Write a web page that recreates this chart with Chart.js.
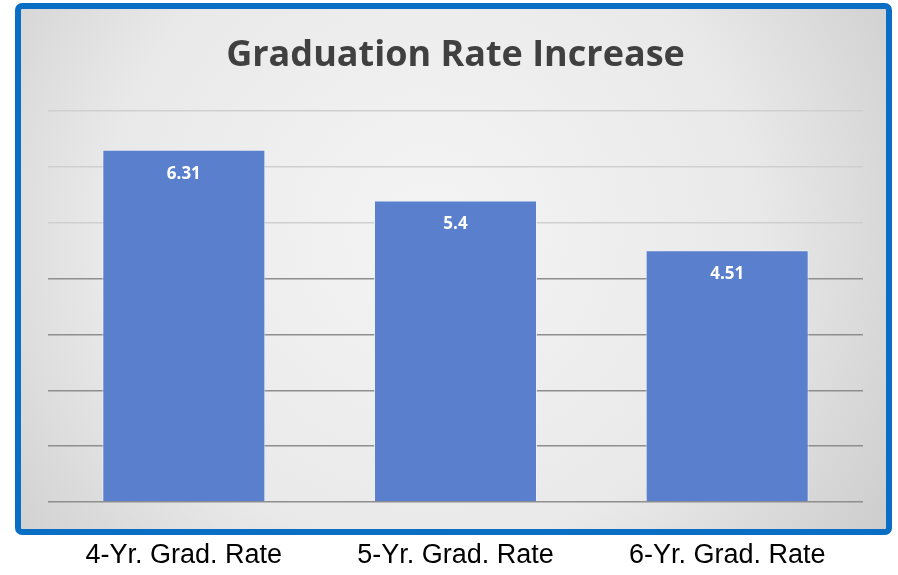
<!DOCTYPE html>
<html>
<head>
<meta charset="utf-8">
<title>Graduation Rate Increase</title>
<script src="https://cdn.jsdelivr.net/npm/chart.js@4.4.1/dist/chart.umd.min.js"></script>
<style>
  html, body { margin: 0; padding: 0; background: #fff; overflow: hidden; }
  canvas { display: block; }
</style>
</head>
<body>
<canvas id="gradChart" width="898" height="575"></canvas>
<script>
const categories = ['4-Yr. Grad. Rate', '5-Yr. Grad. Rate', '6-Yr. Grad. Rate'];
const increases = [6.31, 5.4, 4.51];
const yTicks = [0, 1, 2, 3, 4, 5, 6, 7];

// framed panel behind the plot: grey shaded fill with a blue border
const panelPlugin = {
    id: 'panel',
    beforeDraw(chart) {
        const ctx = chart.ctx;
        const x = 18, y = 6, w = 871, h = 526;
        ctx.save();
        const g = ctx.createRadialGradient(430, 230, 40, 430, 230, 560);
        g.addColorStop(0, '#f3f3f3');
        g.addColorStop(0.55, '#e9e9e9');
        g.addColorStop(1, '#cbcbcb');
        ctx.fillStyle = g;
        ctx.beginPath();
        ctx.roundRect(x, y, w, h, 4);
        ctx.fill();
        ctx.lineWidth = 6;
        ctx.strokeStyle = '#0a6fc4';
        ctx.stroke();
        ctx.restore();
    }
};

// value written in white near the top of each bar
const valuePlugin = {
    id: 'values',
    afterDatasetsDraw(chart) {
        const ctx = chart.ctx;
        const meta = chart.getDatasetMeta(0);
        ctx.save();
        ctx.fillStyle = '#ffffff';
        ctx.font = 'bold 17px "Open Sans", sans-serif';
        ctx.textAlign = 'center';
        ctx.textBaseline = 'middle';
        meta.data.forEach((bar, i) => {
            ctx.fillText(String(increases[i]), bar.x, bar.y + 24);
        });
        ctx.restore();
    }
};

const ctx = document.getElementById('gradChart').getContext('2d');
window.myChart = new Chart(ctx, {
    type: 'bar',
    data: {
        labels: categories,
        datasets: [{
            data: increases,
            backgroundColor: '#5a7fcd',
            borderColor: 'rgba(235,240,250,0.8)',
            borderWidth: 1,
            borderSkipped: 'bottom',
            categoryPercentage: 0.6,
            barPercentage: 1.0
        }]
    },
    options: {
        responsive: false,
        animation: false,
        layout: { padding: { top: 14, left: 48, right: 35, bottom: 0 } },
        plugins: {
            legend: { display: false },
            tooltip: { enabled: false },
            title: {
                display: true,
                text: 'Graduation Rate Increase',
                color: '#404040',
                font: { family: '"Open Sans", sans-serif', size: 36, weight: 'bold' },
                padding: { top: 20, bottom: 34 }
            }
        },
        scales: {
            x: {
                grid: { display: false },
                border: { display: false },
                afterFit(axis) {
                    // category names sit below the framed panel
                    axis.height = 73;
                },
                ticks: {
                    color: '#000',
                    padding: 29,
                    font: { family: '"Liberation Sans", Arial, sans-serif', size: 27 }
                }
            },
            y: {
                min: yTicks[0],
                max: yTicks[yTicks.length - 1],
                afterBuildTicks(axis) {
                    axis.ticks = yTicks.map(v => ({ value: v }));
                },
                border: { display: false },
                ticks: { display: false },
                grid: {
                    drawTicks: false,
                    lineWidth: 1.5,
                    color: c => (c.tick && c.tick.value >= 5 ? '#cfcfcf' : '#8e8e8e')
                }
            }
        }
    },
    plugins: [panelPlugin, valuePlugin]
});
</script>
</body>
</html>
